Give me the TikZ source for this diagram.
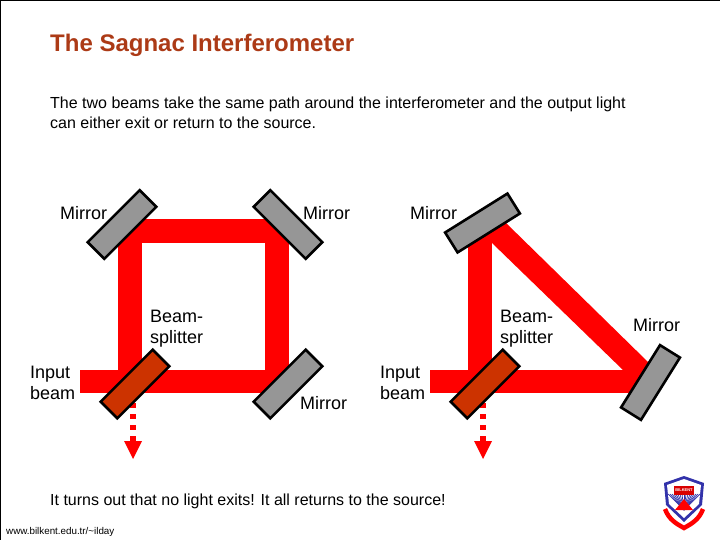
\documentclass[tikz,border=0pt]{standalone}
\usepackage{fontspec}
\setmainfont{Liberation Sans}
\definecolor{beamred}{RGB}{255,0,0}
\definecolor{mirrorgray}{RGB}{150,150,150}
\definecolor{splitterred}{RGB}{204,51,0}
\definecolor{crestblue}{RGB}{50,50,170}
\definecolor{titlebrown}{RGB}{172,58,22}
\tikzset{
  beam/.style={draw=beamred,line width=23.5pt,line join=miter,miter limit=10},
  mirrorbox/.style={draw=black,fill=mirrorgray,line width=2.6pt,minimum width=73.5pt,minimum height=23.5pt,inner sep=0pt},
  splitterbox/.style={mirrorbox,fill=splitterred},
  lbl/.style={font=\fontsize{18}{20.5}\selectfont,align=left,inner sep=0pt,text=black},
  outbeam/.style={draw=beamred,line width=6pt,dash pattern=on 5pt off 6pt},
  outhead/.style={fill=beamred,draw=none},
  txt/.style={anchor=base west,inner sep=0pt,font=\fontsize{16}{20}\selectfont,align=left}
}
\begin{document}
\begin{tikzpicture}[x=1pt,y=-1pt]
\useasboundingbox (0,0) rectangle (720,540);
\fill[white] (0,0) rectangle (720,540);
\draw[black,line width=1.5pt] (0.5,540) -- (0.5,0.5) -- (720,0.5);
% titles
\node[anchor=base west,inner sep=0pt,text=titlebrown,font=\fontsize{24}{28}\selectfont\bfseries] (title) at (50,52) {The Sagnac Interferometer};
\node[txt,anchor=north west] (intro) at (50,97) {The two beams take the same path around the interferometer and the output light\\can either exit or return to the source.};
\node[txt] (concl) at (50,505) {It turns out that no light exits! It all returns to the source!};
\node[anchor=base west,inner sep=0pt,font=\fontsize{9.8}{11}\selectfont] (url) at (6,534) {www.bilkent.edu.tr/\textasciitilde ilday};
% square interferometer
\coordinate (s0) at (80,381.5);
\coordinate (s1) at (130,381.5);
\coordinate (s2) at (130,231);
\coordinate (s3) at (277,231);
\coordinate (s4) at (277,381.5);
\draw[beam] (s0) -- (s1);
\draw[beam] (s1) -- (s2) -- (s3) -- (s4) -- cycle;
\coordinate (sa) at (133,403);
\coordinate (sb) at (133,441);
\draw[outbeam] (sa) -- (sb);
\fill[outhead] (124,441) -- (142,441) -- (133,459) -- cycle;
\node[mirrorbox,rotate=45] (m1) at (122,224.5) {};
\node[mirrorbox,rotate=-45] (m2) at (288,224.5) {};
\node[mirrorbox,rotate=45] (m3) at (288,384) {};
\node[splitterbox,rotate=45] (bs1) at (135,384) {};
\node[lbl,anchor=base west] (l1) at (60,219) {Mirror};
\node[lbl,anchor=base west] (l2) at (303,219) {Mirror};
\node[lbl,anchor=north west] (l3) at (150,310) {Beam-\\splitter};
\node[lbl,anchor=north west] (l4) at (30,366) {Input\\beam};
\node[lbl,anchor=base west] (l5) at (300,409) {Mirror};
% triangle interferometer
\coordinate (t0) at (430,381.5);
\coordinate (t1) at (480,381.5);
\coordinate (t2) at (480,222);
\coordinate (t3) at (653,381.5);
\begin{scope}
\clip (400,180) rectangle (660,400);
\draw[beam] (t0) -- (t1);
\draw[beam] (t1) -- (t2);
\draw[beam] (t1) -- (t3);
\end{scope}
\fill[beamred] (492,243) -- (480,215) -- (505,222) -- (648,362) -- (652,393) -- (623,370) -- cycle;
\coordinate (ta) at (483,403);
\coordinate (tb) at (483,441);
\draw[outbeam] (ta) -- (tb);
\fill[outhead] (474,441) -- (492,441) -- (483,459) -- cycle;
\node[mirrorbox,rotate=32] (m4) at (482.5,223) {};
\node[mirrorbox,rotate=58] (m5) at (650.5,382.5) {};
\node[splitterbox,rotate=45] (bs2) at (485,384) {};
\node[lbl,anchor=base west] (l6) at (410,219) {Mirror};
\node[lbl,anchor=north west] (l7) at (500,310) {Beam-\\splitter};
\node[lbl,anchor=north west] (l8) at (380,366) {Input\\beam};
\node[lbl,anchor=base west] (l9) at (633,331) {Mirror};
% crest
\fill[crestblue] (664,483) -- (684,476) -- (704,483) -- (702,505) -- (684,522) -- (666,505) -- cycle;
\fill[white] (667,485) -- (684,479) -- (701,485) -- (699,504) -- (684,518) -- (669,504) -- cycle;
\foreach \i in {668,670,...,700}{\draw[crestblue,line width=.7pt] (684,510) -- (\i,494);}
\fill[red!85!black] (674,486) rectangle (694,495);
\node[inner sep=0pt,text=white,font=\fontsize{4}{4}\selectfont\bfseries] (crest) at (684,490.5) {BILKENT};
\fill[red] (684,499) -- (693,510) -- (675,510) -- cycle;
\draw[red,line width=4.5pt] (665,509) .. controls (669,520) and (677,524) .. (684,528) .. controls (691,524) and (699,520) .. (703,509);
\end{tikzpicture}
\end{document}
